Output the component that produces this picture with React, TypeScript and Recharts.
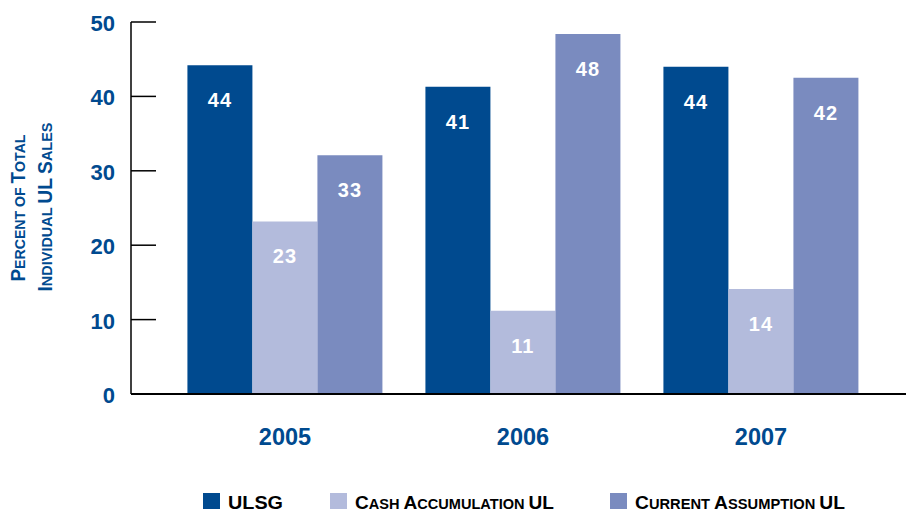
import { BarChart, Bar, XAxis, YAxis, Legend, LabelList } from 'recharts';

const years = ['2005', '2006', '2007'];
const ulsg = [44.2, 41.3, 44.0];
const cashAccum = [23.2, 11.2, 14.1];
const currentAssump = [32.1, 48.4, 42.5];
const ulsgLabels = ['44', '41', '44'];
const cashLabels = ['23', '11', '14'];
const currentLabels = ['33', '48', '42'];
const yTicks = [0, 10, 20, 30, 40, 50];

const data = years.map((y, i) => ({
    year: y,
    ulsg: ulsg[i],
    cash: cashAccum[i],
    current: currentAssump[i],
}));

const BLUE = '#004a8f';
const FONT = '"Liberation Sans", Arial, sans-serif';

// fake small caps: capital letters big, the rest uppercased and smaller
function SmallCaps({ text, big, small }: { text: string; big: number; small: number }) {
    const out: any[] = [];
    text.split(' ').forEach((w, wi, arr) => {
        if (w === w.toUpperCase()) {
            out.push(<tspan key={wi + 'a'} fontSize={big}>{w}</tspan>);
        } else {
            const first = w[0];
            const isCap = first === first.toUpperCase();
            if (isCap) out.push(<tspan key={wi + 'a'} fontSize={big}>{first}</tspan>);
            out.push(<tspan key={wi + 'b'} fontSize={small}>{(isCap ? w.slice(1) : w).toUpperCase()}</tspan>);
        }
        if (wi < arr.length - 1) out.push(<tspan key={wi + 'c'} fontSize={small}>{' '}</tspan>);
    });
    return <>{out}</>;
}

const YTick = (props: any) => {
    const { x, y, payload } = props;
    return (
        <g>
            <line x1={x + 16} x2={x + 41} y1={y} y2={y} stroke="#000" strokeWidth={1.5} />
            <text x={x} y={y} dy={9} textAnchor="end" fill={BLUE} fontSize={22} fontWeight="bold" fontFamily={FONT}>
                {payload.value}
            </text>
        </g>
    );
};

const XTick = (props: any) => {
    const { x, y, payload } = props;
    return (
        <text x={x} y={y} dy={21} textAnchor="middle" fill={BLUE} fontSize={23.5} fontWeight="bold" fontFamily={FONT}>
            {payload.value}
        </text>
    );
};

const makeLabel = (labels: string[]) => (props: any) => {
    const { x, y, width, index } = props;
    return (
        <text x={x + width / 2} y={y + 42} textAnchor="middle" fill="#fff" fontSize={20} fontWeight="bold" fontFamily={FONT} letterSpacing={1}>
            {labels[index]}
        </text>
    );
};

const YLabel = () => (
    <g fontFamily={FONT} fontWeight="bold" fill={BLUE}>
        <text transform="translate(25, 208) rotate(-90)" textAnchor="middle" textLength={147} lengthAdjust="spacingAndGlyphs">
            <SmallCaps text="Percent of Total" big={20} small={15} />
        </text>
        <text transform="translate(52, 207) rotate(-90)" textAnchor="middle" textLength={169} lengthAdjust="spacingAndGlyphs">
            <SmallCaps text="Individual UL Sales" big={20} small={15} />
        </text>
    </g>
);

const legendItems = [
    { name: 'ULSG', color: '#004a8f', x: 203, len: 55 },
    { name: 'Cash Accumulation UL', color: '#b3bbdc', x: 330, len: 199 },
    { name: 'Current Assumption UL', color: '#7a8bbf', x: 610, len: 210 },
];

const LegendContent = () => (
    <svg width={906} height={24} style={{ display: 'block' }}>
        {legendItems.map((it) => (
            <g key={it.name}>
                <rect x={it.x} y={5} width={17} height={16} fill={it.color} />
                <text x={it.x + 25} y={21} fill="#000" fontFamily={FONT} fontWeight="bold" textLength={it.len} lengthAdjust="spacingAndGlyphs">
                    <SmallCaps text={it.name} big={19} small={14.5} />
                </text>
            </g>
        ))}
    </svg>
);

export default function App() {
    return (
        <div style={{ position: 'absolute', left: 0, top: 0 }}>
            <BarChart
                width={906}
                height={512}
                data={data}
                margin={{ top: 22, right: 0, bottom: 0, left: 0 }}
                barCategoryGap="9%"
                barGap={0}
            >
                <XAxis
                    dataKey="year"
                    height={94}
                    padding={{ left: 35, right: 26 }}
                    axisLine={{ stroke: '#000', strokeWidth: 2 }}
                    tickLine={false}
                    tickSize={0}
                    tickMargin={30}
                    tick={<XTick />}
                />
                <YAxis
                    width={131}
                    domain={[0, 50]}
                    ticks={yTicks}
                    interval={0}
                    axisLine={{ stroke: '#000', strokeWidth: 1.5 }}
                    tickLine={false}
                    tickSize={0}
                    tickMargin={16}
                    tick={<YTick />}
                    label={<YLabel />}
                />
                <Legend verticalAlign="bottom" height={24} content={<LegendContent />} wrapperStyle={{ left: 0, width: 906 }} />
                <Bar dataKey="ulsg" fill="#004a8f" isAnimationActive={false}>
                    <LabelList dataKey="ulsg" content={makeLabel(ulsgLabels)} />
                </Bar>
                <Bar dataKey="cash" fill="#b3bbdc" isAnimationActive={false}>
                    <LabelList dataKey="cash" content={makeLabel(cashLabels)} />
                </Bar>
                <Bar dataKey="current" fill="#7a8bbf" isAnimationActive={false}>
                    <LabelList dataKey="current" content={makeLabel(currentLabels)} />
                </Bar>
            </BarChart>
        </div>
    );
}
